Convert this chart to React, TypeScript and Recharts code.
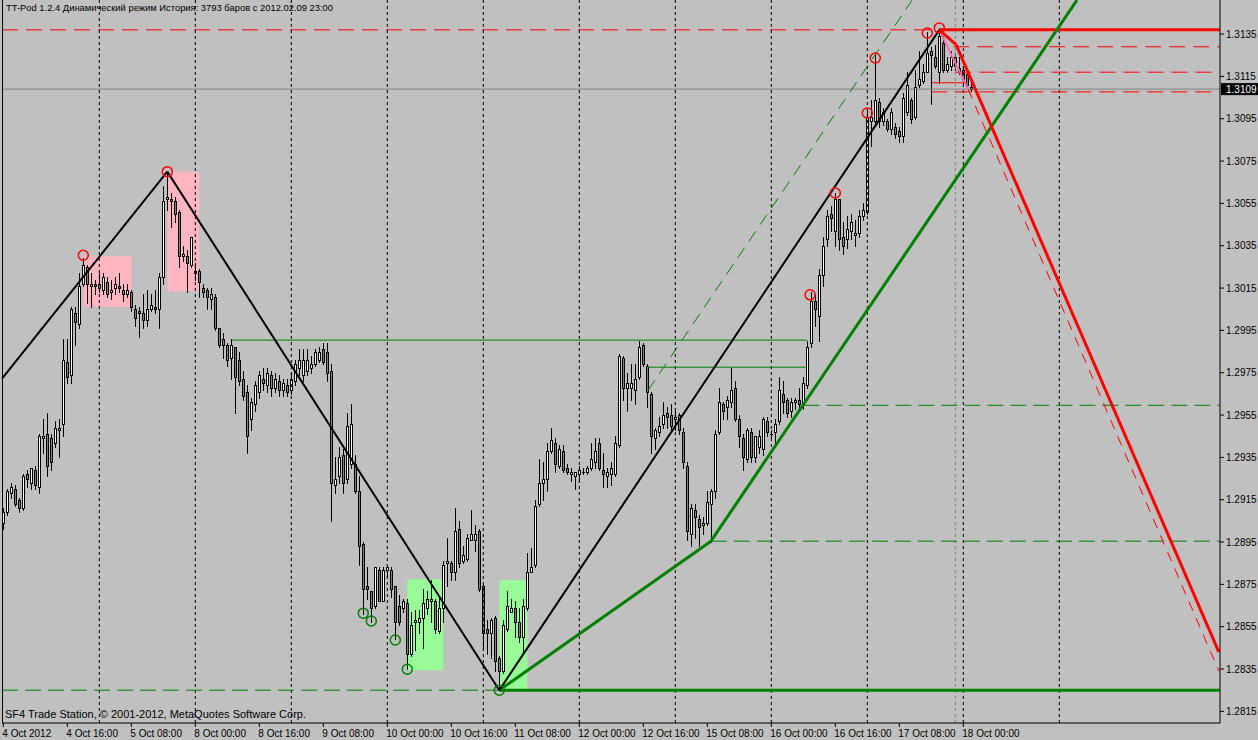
import React from "react";
import {
  ComposedChart,
  Bar,
  XAxis,
  YAxis,
  ReferenceLine,
  ReferenceArea,
  ReferenceDot,
} from "recharts";

// H1 bars, [open, high, low, close]
const bars: [number, number, number, number][] = [
  [1.2904, 1.2911, 1.2901, 1.2909], [1.2909, 1.292, 1.2908, 1.2919], [1.2918, 1.2923, 1.2916, 1.2921], [1.292, 1.2922, 1.2912, 1.2913],
  [1.2915, 1.2916, 1.2909, 1.2911], [1.2911, 1.2927, 1.291, 1.2926], [1.2927, 1.2929, 1.2921, 1.2925], [1.2923, 1.293, 1.292, 1.293],
  [1.2929, 1.2931, 1.292, 1.2922], [1.2921, 1.2946, 1.2918, 1.2945], [1.2944, 1.2953, 1.2937, 1.2945], [1.2946, 1.2956, 1.2926, 1.2931],
  [1.2944, 1.2946, 1.2929, 1.2933], [1.2942, 1.2952, 1.294, 1.2949], [1.2948, 1.2953, 1.2935, 1.2949], [1.2951, 1.2991, 1.2945, 1.2981],
  [1.298, 1.2991, 1.297, 1.2973], [1.2974, 1.3006, 1.297, 1.3005], [1.3003, 1.3006, 1.2988, 1.2999], [1.2998, 1.3022, 1.2996, 1.3016],
  [1.3017, 1.3029, 1.3016, 1.3026], [1.3025, 1.3026, 1.3008, 1.3017], [1.3016, 1.3022, 1.3006, 1.3017], [1.3017, 1.3019, 1.3012, 1.3016],
  [1.3017, 1.3022, 1.3013, 1.3015], [1.3014, 1.3022, 1.3012, 1.302], [1.3018, 1.302, 1.3011, 1.3012], [1.3013, 1.3019, 1.301, 1.3014],
  [1.3015, 1.302, 1.3012, 1.3017], [1.3016, 1.3022, 1.3013, 1.3015], [1.3014, 1.3017, 1.3009, 1.3012], [1.3012, 1.3017, 1.3011, 1.3014],
  [1.3013, 1.3014, 1.3004, 1.3006], [1.3005, 1.3007, 1.2997, 1.3001], [1.3004, 1.3006, 1.2992, 1.3003], [1.3003, 1.3012, 1.2996, 1.3],
  [1.3, 1.3014, 1.2997, 1.3005], [1.3005, 1.3012, 1.3004, 1.3007], [1.3006, 1.3014, 1.3003, 1.3005], [1.3005, 1.3022, 1.2996, 1.302],
  [1.302, 1.3063, 1.3017, 1.3056], [1.3057, 1.307, 1.3052, 1.3058], [1.3057, 1.306, 1.3044, 1.3056], [1.3056, 1.3058, 1.3046, 1.305],
  [1.3051, 1.3052, 1.3025, 1.303], [1.303, 1.3035, 1.3028, 1.3031], [1.303, 1.3033, 1.3013, 1.3027], [1.3026, 1.3039, 1.3025, 1.3039],
  [1.3023, 1.3027, 1.3019, 1.3022], [1.3023, 1.3024, 1.3011, 1.3018], [1.3015, 1.3017, 1.3011, 1.3013], [1.3014, 1.3015, 1.3005, 1.3011],
  [1.301, 1.3015, 1.3005, 1.3012], [1.3011, 1.3012, 1.2995, 1.2996], [1.2996, 1.2996, 1.2987, 1.2988], [1.2991, 1.2994, 1.2982, 1.2988],
  [1.2988, 1.2989, 1.2978, 1.2981], [1.2982, 1.2991, 1.2972, 1.2988], [1.2987, 1.2987, 1.2956, 1.2973], [1.2981, 1.2985, 1.2969, 1.2971],
  [1.2972, 1.2976, 1.2962, 1.2964], [1.2966, 1.2969, 1.2937, 1.2945], [1.2953, 1.2963, 1.2948, 1.2961], [1.296, 1.2971, 1.2957, 1.2969],
  [1.2966, 1.2976, 1.2963, 1.2974], [1.2972, 1.2977, 1.2967, 1.297], [1.2969, 1.2977, 1.2966, 1.2975], [1.2974, 1.2976, 1.2964, 1.2968],
  [1.2968, 1.2975, 1.2966, 1.2972], [1.2971, 1.2974, 1.2964, 1.2967], [1.2967, 1.2972, 1.2964, 1.297], [1.2969, 1.2972, 1.2964, 1.2966],
  [1.2967, 1.2975, 1.2965, 1.2972], [1.2971, 1.2981, 1.2969, 1.2979], [1.2977, 1.2986, 1.2974, 1.2981], [1.2974, 1.2986, 1.2971, 1.2981],
  [1.2976, 1.2986, 1.2974, 1.2981], [1.2977, 1.2983, 1.2975, 1.2979], [1.2979, 1.2986, 1.2978, 1.2985], [1.2981, 1.2987, 1.298, 1.2985],
  [1.2986, 1.2989, 1.2979, 1.298], [1.2985, 1.2989, 1.2971, 1.2975], [1.2976, 1.2979, 1.2905, 1.2923], [1.2922, 1.2935, 1.2918, 1.2925],
  [1.2926, 1.294, 1.2923, 1.2935], [1.2936, 1.2939, 1.2918, 1.2923], [1.2925, 1.2956, 1.2923, 1.295], [1.2932, 1.296, 1.293, 1.2951],
  [1.2932, 1.2936, 1.2918, 1.2919], [1.2919, 1.2926, 1.2884, 1.2893], [1.2894, 1.2895, 1.2861, 1.2873], [1.2874, 1.2883, 1.2868, 1.2873],
  [1.2872, 1.2872, 1.2857, 1.2864], [1.2865, 1.2883, 1.2864, 1.2883], [1.2882, 1.2883, 1.2867, 1.2867], [1.2867, 1.2883, 1.2867, 1.2882],
  [1.2882, 1.2883, 1.2879, 1.2883], [1.2882, 1.2883, 1.2869, 1.2873], [1.2874, 1.2874, 1.2849, 1.2857], [1.2865, 1.287, 1.2856, 1.2857],
  [1.2864, 1.2868, 1.2862, 1.2867], [1.2866, 1.2868, 1.2835, 1.2842], [1.2842, 1.2862, 1.2841, 1.2856], [1.2857, 1.2863, 1.2844, 1.2858],
  [1.2857, 1.2863, 1.2852, 1.2859], [1.2859, 1.2873, 1.2845, 1.2866], [1.2864, 1.2872, 1.2861, 1.2868], [1.2867, 1.2877, 1.2857, 1.2868],
  [1.2867, 1.2868, 1.2852, 1.2854], [1.2853, 1.2869, 1.2852, 1.2864], [1.2864, 1.2886, 1.2857, 1.2884], [1.2885, 1.2897, 1.2874, 1.2886],
  [1.2885, 1.2886, 1.2877, 1.2881], [1.2881, 1.2911, 1.2877, 1.29], [1.2901, 1.2905, 1.2883, 1.2885], [1.2886, 1.2893, 1.2885, 1.2889],
  [1.2887, 1.2899, 1.2886, 1.2897], [1.2896, 1.291, 1.2896, 1.2899], [1.2896, 1.2903, 1.2891, 1.2899], [1.29, 1.2901, 1.2872, 1.2873],
  [1.2874, 1.2875, 1.2845, 1.2852], [1.2854, 1.2858, 1.2842, 1.2852], [1.2852, 1.2859, 1.284, 1.2858], [1.2859, 1.286, 1.2834, 1.2839],
  [1.284, 1.2841, 1.2825, 1.2834], [1.2834, 1.2858, 1.2833, 1.2856], [1.2854, 1.2872, 1.2853, 1.2865], [1.2862, 1.2868, 1.2862, 1.2864],
  [1.2864, 1.2867, 1.285, 1.2857], [1.2857, 1.2864, 1.2848, 1.285], [1.285, 1.2868, 1.2842, 1.2865], [1.2864, 1.289, 1.2863, 1.2881],
  [1.2881, 1.2892, 1.2881, 1.2883], [1.2884, 1.2915, 1.2883, 1.2912], [1.2913, 1.2934, 1.2912, 1.2923], [1.2923, 1.2933, 1.2915, 1.2925],
  [1.2925, 1.2942, 1.2919, 1.2938], [1.2938, 1.2949, 1.2937, 1.2943], [1.2942, 1.2944, 1.2928, 1.2932], [1.2931, 1.2941, 1.293, 1.2939],
  [1.2938, 1.2941, 1.2928, 1.2929], [1.293, 1.2932, 1.2927, 1.2928], [1.2927, 1.293, 1.2924, 1.2928], [1.2926, 1.2928, 1.292, 1.2928],
  [1.2927, 1.2931, 1.2924, 1.2929], [1.2928, 1.293, 1.2927, 1.2928], [1.2928, 1.2931, 1.2927, 1.293], [1.293, 1.2942, 1.2929, 1.2934],
  [1.2933, 1.2944, 1.293, 1.2938], [1.2942, 1.2944, 1.2929, 1.293], [1.2929, 1.2937, 1.2921, 1.2927], [1.2926, 1.293, 1.2921, 1.2928],
  [1.2927, 1.2933, 1.2922, 1.293], [1.2927, 1.2945, 1.2926, 1.2942], [1.2941, 1.2984, 1.294, 1.2983], [1.2982, 1.2983, 1.2962, 1.2968],
  [1.2968, 1.2975, 1.2957, 1.297], [1.2968, 1.2979, 1.2962, 1.297], [1.2967, 1.2979, 1.296, 1.2972], [1.2973, 1.299, 1.2972, 1.2987],
  [1.2988, 1.2989, 1.2978, 1.2979], [1.2978, 1.2979, 1.2959, 1.2966], [1.2965, 1.2966, 1.2937, 1.2945], [1.2944, 1.2949, 1.2939, 1.2948],
  [1.2947, 1.2954, 1.2945, 1.295], [1.2951, 1.2961, 1.2949, 1.2955], [1.2956, 1.2959, 1.2949, 1.2954], [1.2955, 1.296, 1.2948, 1.295],
  [1.2953, 1.2957, 1.2948, 1.2954], [1.2955, 1.2956, 1.2946, 1.2948], [1.2947, 1.2949, 1.293, 1.2933], [1.2931, 1.2933, 1.2896, 1.29],
  [1.2899, 1.2913, 1.2893, 1.2911], [1.291, 1.2913, 1.2897, 1.2907], [1.2906, 1.2908, 1.2893, 1.2902], [1.2903, 1.2907, 1.2899, 1.2904],
  [1.2904, 1.2919, 1.2903, 1.2914], [1.2913, 1.292, 1.2895, 1.2919], [1.2919, 1.2948, 1.2916, 1.2946], [1.2947, 1.2968, 1.2946, 1.2961],
  [1.296, 1.2961, 1.2953, 1.2957], [1.2959, 1.2964, 1.2953, 1.2962], [1.2961, 1.2977, 1.2959, 1.2967], [1.2968, 1.2971, 1.2952, 1.2953],
  [1.2953, 1.2955, 1.294, 1.2945], [1.2944, 1.2946, 1.2929, 1.2935], [1.2934, 1.2949, 1.2933, 1.2948], [1.2947, 1.2949, 1.2933, 1.2935],
  [1.2935, 1.2945, 1.2933, 1.2945], [1.294, 1.2948, 1.2937, 1.2945], [1.2939, 1.2954, 1.2936, 1.2953], [1.2952, 1.2954, 1.2945, 1.2947],
  [1.2946, 1.2948, 1.2944, 1.2946], [1.2947, 1.2953, 1.2942, 1.2951], [1.2952, 1.2973, 1.2951, 1.2967], [1.2965, 1.2971, 1.2956, 1.2961],
  [1.2962, 1.2963, 1.2954, 1.2956], [1.2957, 1.2963, 1.2954, 1.2961], [1.2961, 1.2963, 1.2958, 1.2962], [1.2962, 1.2968, 1.2958, 1.296],
  [1.296, 1.2973, 1.2958, 1.297], [1.2969, 1.299, 1.2968, 1.2987], [1.2989, 1.3013, 1.2987, 1.3009], [1.3009, 1.3012, 1.2997, 1.3005],
  [1.3002, 1.3024, 1.299, 1.3021], [1.3021, 1.3039, 1.3016, 1.3035], [1.3038, 1.3052, 1.3035, 1.3049], [1.305, 1.3054, 1.3042, 1.3048],
  [1.3042, 1.306, 1.3035, 1.3057], [1.3057, 1.3057, 1.3033, 1.3038], [1.3039, 1.3046, 1.3031, 1.3035], [1.3038, 1.3049, 1.3034, 1.3043],
  [1.3042, 1.305, 1.3038, 1.3046], [1.304, 1.3047, 1.3035, 1.3041], [1.3041, 1.3052, 1.3039, 1.3049], [1.3049, 1.3055, 1.3047, 1.3052],
  [1.3051, 1.3099, 1.305, 1.3096], [1.3094, 1.3104, 1.3082, 1.3096], [1.3094, 1.3126, 1.3093, 1.3104], [1.3103, 1.3105, 1.3091, 1.3094],
  [1.3094, 1.31, 1.3092, 1.3098], [1.3094, 1.3095, 1.3089, 1.309], [1.309, 1.31, 1.3088, 1.3098], [1.3091, 1.3093, 1.3086, 1.3088],
  [1.3089, 1.3091, 1.3084, 1.3087], [1.3087, 1.3107, 1.3084, 1.3105], [1.3098, 1.3117, 1.3097, 1.3111], [1.3104, 1.3105, 1.3093, 1.3095],
  [1.3096, 1.3118, 1.3095, 1.311], [1.3111, 1.3127, 1.311, 1.3114], [1.3113, 1.3121, 1.3112, 1.3117], [1.3117, 1.3136, 1.3117, 1.3126],
  [1.3127, 1.3129, 1.3102, 1.3125], [1.3124, 1.313, 1.3119, 1.312], [1.3117, 1.3138, 1.3112, 1.3134], [1.3131, 1.3134, 1.3117, 1.3118],
  [1.3118, 1.3124, 1.3117, 1.3121], [1.312, 1.3127, 1.3118, 1.3124], [1.3124, 1.3126, 1.3118, 1.312], [1.3119, 1.3124, 1.3116, 1.3117],
  [1.3118, 1.3119, 1.3112, 1.3114], [1.3116, 1.3117, 1.311, 1.3111], [1.311, 1.3112, 1.3108, 1.3109],
];

const timeLabels = [
  "4 Oct 2012", "4 Oct 16:00", "5 Oct 08:00", "8 Oct 00:00", "8 Oct 16:00", "9 Oct 08:00",
  "10 Oct 00:00", "10 Oct 16:00", "11 Oct 08:00", "12 Oct 00:00", "12 Oct 16:00", "15 Oct 08:00",
  "16 Oct 00:00", "16 Oct 16:00", "17 Oct 08:00", "18 Oct 00:00",
];
const labelStep = 16; // bars between time labels
const dayStarts = [24, 48, 72, 96, 120, 144, 168, 192, 216, 240, 264];
const priceTicks = [
  1.2815, 1.2835, 1.2855, 1.2875, 1.2895, 1.2915, 1.2935, 1.2955, 1.2975,
  1.2995, 1.3015, 1.3035, 1.3055, 1.3075, 1.3095, 1.3115, 1.3135,
];
const bid = 1.3109;

// zigzag / projection lines, [bar, price]
const zigzag: [number, number][] = [[-0.32, 1.29722], [41, 1.307], [124, 1.2825], [234, 1.3137]];
const redProjection: [number, number][] = [[234, 1.3137], [238.2, 1.313], [303.9, 1.2843]];
const pinkLeg: [number, number][] = [[234, 1.3137], [241.2, 1.3109]];
const redDashedLeg: [number, number][] = [[241.2, 1.3109], [303.9, 1.2834]];
const greenSupport: [number, number][] = [[124, 1.2825], [176.9, 1.28954], [268.4, 1.3151]];
const greenChannel: [number, number][] = [[161.2, 1.29667], [227.2, 1.3151]];

// horizontal levels: [fromBar, toBar, price]
const END = 304.1;
const redDashLevels: [number, number, number][] = [[-0.32, 234, 1.3137], [237.5, END, 1.3129], [238, END, 1.3117], [232, END, 1.31077]];
const redSolidLevels: [number, number, number, number][] = [[234, END, 1.3137, 3], [232.2, 241, 1.3112, 1]];
const greenSolidLevels: [number, number, number, number][] = [[124, END, 1.2825, 3], [57.2, 201, 1.29904, 1], [161.2, 201, 1.29776, 1]];
const greenDashLevels: [number, number, number][] = [[-0.32, 124, 1.2825], [200, END, 1.29596], [176.9, END, 1.28954]];

// fractal marks [bar, price]
const redMarks: [number, number][] = [[20, 1.30305], [41, 1.307], [201.7, 1.30118], [208, 1.30599], [216, 1.30977], [218, 1.31237], [231, 1.31355], [234, 1.31379]];
const greenMarks: [number, number][] = [[90, 1.28614], [92, 1.28577], [98, 1.28487], [101, 1.28349], [124, 1.2825]];

// boxes [x1, x2, y1, y2]
const pinkBoxes: [number, number, number, number][] = [[20, 32, 1.3006, 1.3030], [41, 49, 1.30135, 1.307]];
const greenBoxes: [number, number, number, number][] = [[101, 110, 1.28344, 1.28774], [124, 131, 1.2825, 1.2877]];

const data = bars.map(([o, h, l, c], i) => ({ i, o, h, l, c, range: [l, h] }));

const FONT = "'Liberation Sans', Arial, sans-serif";

const Candle = (props: any) => {
  const { x, y, width, height, payload } = props;
  if (x == null || !payload) return null;
  const top = Math.min(y, y + height);
  const span = Math.abs(height);
  const { o, h, l, c } = payload;
  const toY = (p: number) => (h === l ? top : top + ((h - p) / (h - l)) * span);
  const cx = Math.round(x + width / 2);
  const bTop = Math.round(Math.min(toY(o), toY(c)));
  const bBot = Math.round(Math.max(toY(o), toY(c)));
  const bull = c >= o;
  return (
    <g shapeRendering="crispEdges">
      <line x1={cx + 0.5} x2={cx + 0.5} y1={Math.round(top)} y2={Math.round(top + span) + 1} stroke="#000" />
      {bBot - bTop < 1 ? (
        <line x1={cx - 1} x2={cx + 2} y1={bTop + 0.5} y2={bTop + 0.5} stroke="#000" />
      ) : (
        <rect x={cx - 0.5} y={bTop + 0.5} width={2} height={bBot - bTop} fill={bull ? "#fff" : "#808080"} stroke="#000" />
      )}
    </g>
  );
};

const TimeTick = (props: any) => {
  const { x, payload } = props;
  const label = timeLabels[Math.round(payload.value / labelStep)];
  return (
    <text x={x - 1} y={737} textAnchor="start" fontSize={10} fontFamily={FONT} fill="#000">
      {label}
    </text>
  );
};

const BidLabel = (props: any) => {
  const { viewBox } = props;
  if (!viewBox) return null;
  const x0 = viewBox.x + viewBox.width + 1;
  return (
    <g>
      <rect x={x0} y={viewBox.y - 6} width={37} height={12} fill="#000" />
      <text x={x0 + 5} y={viewBox.y + 3.5} fontSize={10} fontFamily={FONT} fill="#fff">
        {bid.toFixed(4)}
      </text>
    </g>
  );
};

const seg = (pts: [number, number][]) =>
  pts.slice(1).map((p, k) => [{ x: pts[k][0], y: pts[k][1] }, { x: p[0], y: p[1] }]);

export default function App() {
  return (
    <div style={{ position: "absolute", left: 0, top: 0, width: 1258, height: 740, background: "#C0C0C0", overflow: "hidden" }}>
      <ComposedChart width={1258} height={740} data={data} margin={{ top: 0, right: 0, bottom: 0, left: 2 }}>
        <XAxis
          dataKey="i"
          type="number"
          domain={[-0.325, 304.175]}
          allowDataOverflow
          ticks={timeLabels.map((_, k) => k * labelStep)}
          tick={<TimeTick />}
          tickSize={4}
          height={17}
          axisLine={{ stroke: "#000" }}
          tickLine={{ stroke: "#000" }}
          interval={0}
        />
        <YAxis
          orientation="right"
          type="number"
          domain={[1.28095, 1.31511]}
          allowDataOverflow
          ticks={priceTicks}
          tickFormatter={(v: number) => v.toFixed(4)}
          width={38}
          tickSize={4}
          tickMargin={2}
          interval={0}
          axisLine={{ stroke: "#000" }}
          tickLine={{ stroke: "#000" }}
          tick={{ fill: "#000", fontSize: 10, fontFamily: FONT }}
        />

        {pinkBoxes.map(([x1, x2, y1, y2], k) => (
          <ReferenceArea key={"pb" + k} x1={x1} x2={x2} y1={y1} y2={y2} fill="#FFB6C1" fillOpacity={1} stroke="none" />
        ))}
        {greenBoxes.map(([x1, x2, y1, y2], k) => (
          <ReferenceArea key={"gb" + k} x1={x1} x2={x2} y1={y1} y2={y2} fill="#98FB98" fillOpacity={1} stroke="none" />
        ))}

        {dayStarts.map((d) => (
          <ReferenceLine key={"d" + d} x={d} stroke="#000" strokeDasharray="3 3" />
        ))}
        <ReferenceLine x={238} stroke="#808080" strokeDasharray="3 3" />
        <ReferenceLine y={bid} stroke="#808080" label={<BidLabel />} />

        <Bar dataKey="range" barSize={3} shape={(p: any) => <Candle {...p} />} isAnimationActive={false} />

        {greenDashLevels.map(([a, b, p], k) => (
          <ReferenceLine key={"gd" + k} segment={[{ x: a, y: p }, { x: b, y: p }]} stroke="#008000" strokeDasharray="16 7" />
        ))}
        {greenSolidLevels.map(([a, b, p, w], k) => (
          <ReferenceLine key={"gs" + k} segment={[{ x: a, y: p }, { x: b, y: p }]} stroke="#008000" strokeWidth={w} />
        ))}
        {redDashLevels.map(([a, b, p], k) => (
          <ReferenceLine key={"rd" + k} segment={[{ x: a, y: p }, { x: b, y: p }]} stroke="#FF0000" strokeDasharray="16 8" />
        ))}
        {redSolidLevels.map(([a, b, p, w], k) => (
          <ReferenceLine key={"rs" + k} segment={[{ x: a, y: p }, { x: b, y: p }]} stroke="#FF0000" strokeWidth={w} />
        ))}

        {seg(greenChannel).map((s, k) => (
          <ReferenceLine key={"gc" + k} segment={s} stroke="#008000" strokeDasharray="12 8" />
        ))}
        {seg(greenSupport).map((s, k) => (
          <ReferenceLine key={"gsp" + k} segment={s} stroke="#008000" strokeWidth={3} />
        ))}
        {seg(zigzag).map((s, k) => (
          <ReferenceLine key={"zz" + k} segment={s} stroke="#000" strokeWidth={2} />
        ))}
        {seg(pinkLeg).map((s, k) => (
          <ReferenceLine key={"pl" + k} segment={s} stroke="#FF69B4" strokeWidth={2} />
        ))}
        {seg(redDashedLeg).map((s, k) => (
          <ReferenceLine key={"rl" + k} segment={s} stroke="#FF0000" strokeDasharray="10 8" />
        ))}
        {seg(redProjection).map((s, k) => (
          <ReferenceLine key={"rp" + k} segment={s} stroke="#FF0000" strokeWidth={3} />
        ))}

        {redMarks.map(([b, p], k) => (
          <ReferenceDot key={"rm" + k} x={b} y={p} r={5} fill="none" stroke="#FF0000" strokeWidth={1.5} />
        ))}
        {greenMarks.map(([b, p], k) => (
          <ReferenceDot key={"gm" + k} x={b} y={p} r={5} fill="none" stroke="#008000" strokeWidth={1.5} />
        ))}
      </ComposedChart>
      <div style={{ position: "absolute", left: 2, top: 0, width: 1, height: 723, background: "#000" }} />
      <div style={{ position: "absolute", left: 6, top: 2, fontFamily: FONT, fontSize: 9.4, color: "#000", whiteSpace: "nowrap" }}>
        TT-Pod 1.2.4 Динамический режим История: 3793 баров с 2012.02.09 23:00
      </div>
      <div style={{ position: "absolute", left: 5, top: 708, fontFamily: FONT, fontSize: 11, color: "#000", whiteSpace: "nowrap" }}>
        SF4 Trade Station, © 2001-2012, MetaQuotes Software Corp.
      </div>
    </div>
  );
}
